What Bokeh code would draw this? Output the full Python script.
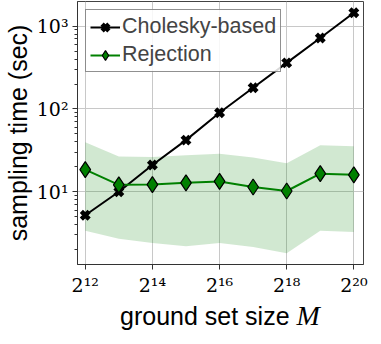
from bokeh.plotting import figure
from bokeh.models import FixedTicker, Range1d, Div
from bokeh.layouts import column
from bokeh.embed import file_html
from bokeh.resources import INLINE

# ---- data ----
M = [4096, 8192, 16384, 32768, 65536, 131072, 262144, 524288, 1048576]
chol = [5.2, 10.0, 21.0, 42.0, 90.0, 180.0, 360.0, 720.0, 1450.0]
rej = [18.5, 12.1, 12.2, 12.8, 13.3, 11.4, 10.2, 16.5, 16.0]
rej_hi = [39.7, 26.6, 26.3, 27.6, 28.8, 25.9, 22.1, 36.5, 35.5]
rej_lo = [3.37, 2.70, 2.40, 2.20, 2.40, 2.15, 1.80, 3.37, 3.25]
xtick_vals = [4096, 16384, 65536, 262144, 1048576]
xtick_labels = ["2¹²", "2¹⁴", "2¹⁶", "2¹⁸", "2²⁰"]
ytick_vals = [10, 100, 1000]
ytick_labels = ["10¹", "10²", "10³"]
series_names = ["Cholesky-based", "Rejection"]
ylabel = "sampling time (sec)"
xlabel_text = "ground set size"
xlabel_var = "M"

ytick_minor = [m * d for d in (1, 10, 100, 1000) for m in range(2, 10)]

p = figure(width=371, height=304, x_axis_type="log", y_axis_type="log",
           x_range=Range1d(3490, 1.28e6), y_range=Range1d(1.32, 1985),
           output_backend="svg", toolbar_location=None,
           min_border_left=71, min_border_right=8, min_border_top=1,
           min_border_bottom=40, margin=(0, 0, 0, 0))
p.background_fill_color = "white"
p.border_fill_color = "white"
p.outline_line_color = "#444444"
p.outline_line_width = 1

# band
p.varea(x=M, y1=rej_lo, y2=rej_hi, fill_color="green", fill_alpha=0.18)

# Cholesky
p.line(M, chol, line_color="black", line_width=2, legend_label=series_names[0])
p.scatter(M, chol, marker="x", size=11, line_color="black", line_width=4.5,
          legend_label=series_names[0])

# Rejection
p.line(M, rej, line_color="green", line_width=2, legend_label=series_names[1])
p.scatter(M, rej, marker="diamond", size=16, fill_color="green",
          line_color="black", line_width=1.2, legend_label=series_names[1])

# axes
p.xaxis.ticker = FixedTicker(ticks=xtick_vals, minor_ticks=[])
p.yaxis.ticker = FixedTicker(ticks=ytick_vals, minor_ticks=ytick_minor)
p.xaxis.major_label_overrides = dict(zip(xtick_vals, xtick_labels))
p.yaxis.major_label_overrides = dict(zip(ytick_vals, ytick_labels))

for ax in (p.xaxis, p.yaxis):
    ax.major_label_text_font = "DejaVu Serif"
    ax.major_label_text_font_size = "19px"
    ax.major_label_text_color = "black"
    ax.axis_line_color = "#333333"
    ax.major_tick_line_color = "#333333"
    ax.minor_tick_line_color = "#333333"
    ax.major_tick_out = 5
    ax.major_tick_in = 0
    ax.minor_tick_out = 3
    ax.minor_tick_in = 0
    ax.major_label_standoff = 4

p.yaxis.axis_label = ylabel
p.yaxis.axis_label_text_font = "Liberation Sans"
p.yaxis.axis_label_text_font_size = "25px"
p.yaxis.axis_label_text_font_style = "normal"
p.yaxis.axis_label_text_color = "black"
p.yaxis.axis_label_standoff = 2

p.xgrid.grid_line_color = "#c8c8c8"
p.ygrid.grid_line_color = "#c8c8c8"

# legend
lg = p.legend[0]
lg.location = "top_left"
lg.margin = 8
lg.padding = 4
lg.spacing = 3
lg.label_text_font = "Liberation Sans"
lg.label_text_font_size = "21.5px"
lg.label_standoff = 2
lg.glyph_width = 30
lg.glyph_height = 24
lg.label_height = 24
lg.border_line_color = "#222222"
lg.border_line_width = 1
lg.background_fill_color = "white"
lg.background_fill_alpha = 0.85

# x axis title: sans text + italic serif variable
xtitle = Div(
    text=('<div style="padding-left:120px;font-size:25px;line-height:24px;'
          'white-space:nowrap;font-family:\'Liberation Sans\';color:black">'
          + xlabel_text +
          ' <span style="font-family:\'Liberation Serif\';font-style:italic;'
          'font-size:28px">' + xlabel_var + '</span></div>'),
    width=371, height=24, margin=(0, 0, 0, 0))

layout = column(p, xtitle, spacing=0, margin=(0, 0, 0, 0))

html = file_html(layout, INLINE)
open("out.html", "w").write(html)
